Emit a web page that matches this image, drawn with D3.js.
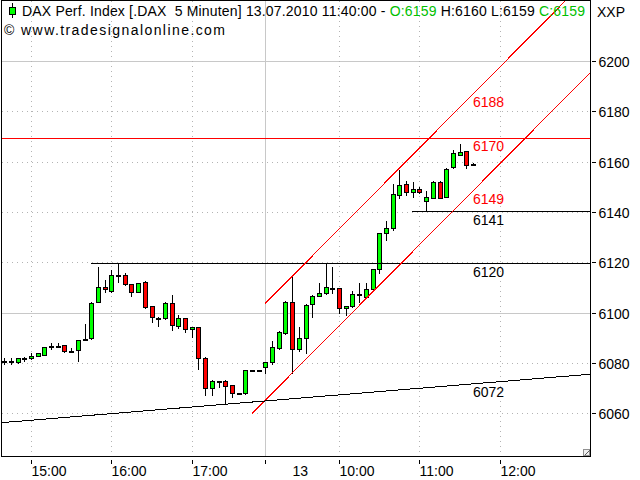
<!DOCTYPE html>
<html><head><meta charset="utf-8">
<script src="https://cdn.jsdelivr.net/npm/d3@7"></script>
<style>
body{margin:0;background:#fff}
svg{display:block}
text{font-family:"Liberation Sans",Arial,sans-serif;font-size:14px;white-space:pre}
</style>
</head><body>
<svg id="c" width="640" height="480"></svg>
<script>
// ---- data ----
const openVals  = [6080.8,6080.6,6080.4,6081.9,6082.0,6082.8,6083.3,6086.3,6086.8,6086.9,6084.8,6085.1,6089.3,6089.7,6104.1,6110.0,6108.7,6114.6,6114.8,6111.2,6108.3,6112.0,6102.5,6098.0,6097.7,6103.8,6094.5,6097.7,6093.3,6094.1,6082.1,6069.8,6072.7,6072.8,6071.0,6067.8,6067.8,6077.0,6077.0,6078.2,6080.2,6086.0,6091.7,6104.1,6085.6,6089.7,6103.3,6106.6,6107.6,6109.9,6109.6,6101.7,6102.5,6107.2,6106.3,6109.2,6117.2,6131.6,6133.4,6146.8,6151.2,6148.1,6149.1,6144.4,6145.7,6152.0,6146.1,6157.7,6162.7,6164.1,6159.0];
const highVals  = [6082.0,6082.1,6082.0,6082.4,6083.7,6084.0,6086.3,6087.7,6087.7,6087.0,6085.8,6089.0,6095.4,6104.0,6117.9,6112.8,6116.7,6119.6,6115.9,6111.4,6111.8,6112.4,6102.6,6098.1,6104.0,6107.0,6099.0,6097.8,6094.3,6094.2,6082.4,6073.2,6072.9,6073.0,6071.1,6067.9,6077.1,6077.1,6077.1,6080.3,6088.8,6092.8,6104.7,6114.5,6094.3,6103.2,6106.8,6111.6,6119.6,6118.2,6109.8,6102.6,6108.6,6111.6,6111.6,6117.3,6131.8,6136.2,6151.2,6156.5,6152.1,6151.7,6149.9,6148.4,6152.4,6152.1,6157.5,6164.5,6167.0,6164.3,6159.6];
const lowVals   = [6079.5,6079.4,6080.0,6080.8,6081.6,6082.6,6083.0,6085.6,6086.3,6084.3,6084.1,6080.8,6089.2,6089.5,6104.0,6108.3,6108.3,6112.0,6111.1,6106.7,6108.0,6101.8,6096.1,6094.7,6097.5,6093.1,6093.7,6092.3,6090.1,6077.4,6067.1,6067.1,6070.2,6063.5,6066.5,6067.7,6067.7,6076.9,6076.9,6075.8,6079.4,6085.3,6091.6,6075.8,6084.8,6084.0,6098.3,6106.4,6107.4,6107.9,6099.7,6099.0,6102.3,6104.3,6105.6,6108.6,6115.6,6128.9,6133.0,6145.5,6146.8,6146.1,6147.6,6140.4,6145.6,6145.5,6145.9,6157.5,6162.5,6157.5,6158.8];
const closeVals = [6080.8,6080.6,6081.8,6082.1,6082.9,6083.7,6086.1,6086.5,6086.8,6084.5,6084.8,6088.9,6089.4,6103.7,6110.0,6109.2,6114.8,6114.8,6111.5,6108.3,6111.6,6102.3,6098.1,6097.9,6103.8,6094.9,6097.7,6093.3,6094.1,6081.8,6069.8,6072.7,6072.8,6070.8,6067.8,6067.8,6077.0,6077.0,6077.0,6080.2,6086.4,6092.1,6104.1,6085.6,6089.7,6103.0,6106.6,6107.6,6110.0,6109.9,6101.7,6102.5,6107.2,6107.2,6109.2,6117.2,6131.6,6133.4,6147.1,6150.5,6148.1,6149.1,6147.9,6145.9,6152.0,6145.7,6157.1,6163.4,6163.8,6158.8,6159.0];

const xTickIdx    = [4,16,28,39,50,62,74];
const xTickLabels = ["15:00","16:00","17:00","13","10:00","11:00","12:00"];
const yTicks      = [6060,6080,6100,6120,6140,6160,6180,6200];

// drawn lines (index, price)
const redHLinePrice  = 6169.4;
const blackHLines    = [[13, 6119.6],[60.9, 6140.5]];   // start index, price
const upperChannel   = [[38.94, 6103.7],[84.5, 6226.0]];
const lowerChannel   = [[37.0, 6060.0],[87.7, 6196.1]];
const trendLine      = [[-0.4, 6056.4],[87.7, 6075.7]];
const labelIdx       = 70;
const redLabels      = [["6188", 6187.1],["6170", 6169.6],["6149", 6148.6]];
const blackLabels    = [["6141", 6140.5],["6120", 6119.6],["6072", 6071.8]];

const titleText  = "DAX Perf. Index [.DAX  5 Minuten] 13.07.2010 11:40:00 - ";
const ohlcText   = [["O:6159","#00c000"],["H:6160","#000"],["L:6159","#000"],["C:6159","#00c000"]];

// ---- layout ----
const svg = d3.select("#c");
const L = 1.5, T = 0.5, R = 590.5, B = 456.5;
const x = d3.scaleLinear().domain([0, 70]).range([4.2, 473.0]);
const y = d3.scaleLinear().domain([6060, 6200]).range([413.6, 61.5]);
const row = p => Math.floor(y(p));

svg.append("clipPath").attr("id","clip").append("rect")
  .attr("x", 2).attr("y", 1).attr("width", R - 2).attr("height", B - 1.5);
const plot = svg.append("g").attr("clip-path","url(#clip)");

// grid
yTicks.forEach(t => {
  const solid = (t % 100 === 0);
  plot.append("line").attr("x1", L).attr("x2", R)
    .attr("y1", row(t) + 0.5).attr("y2", row(t) + 0.5)
    .attr("stroke", solid ? "#c8c8c8" : "#b4b4b4")
    .attr("stroke-dasharray", solid ? null : "1,4")
    .attr("shape-rendering","crispEdges");
});
xTickIdx.forEach((t, i) => {
  const solid = xTickLabels[i] === "13";
  const xx = Math.round(x(t)) + 0.5;
  plot.append("line").attr("x1", xx).attr("x2", xx).attr("y1", T).attr("y2", B)
    .attr("stroke", solid ? "#c8c8c8" : "#b4b4b4")
    .attr("stroke-dasharray", solid ? null : "1,4")
    .attr("shape-rendering","crispEdges");
});

// candles
const cg = plot.append("g");
openVals.forEach((o, i) => {
  const c = closeVals[i], h = highVals[i], l = lowVals[i];
  const cx = Math.round(x(i));
  const top = row(Math.max(o, c)), bot = row(Math.min(o, c));
  cg.append("line").attr("x1", cx + 0.5).attr("x2", cx + 0.5)
    .attr("y1", row(h)).attr("y2", row(l) + 1)
    .attr("stroke","#000").attr("shape-rendering","crispEdges");
  if (bot - top <= 1) {
    cg.append("line").attr("x1", cx - 2).attr("x2", cx + 3)
      .attr("y1", row(c) + 0.5).attr("y2", row(c) + 0.5)
      .attr("stroke","#000").attr("stroke-width", 2).attr("shape-rendering","crispEdges");
  } else {
    cg.append("rect").attr("x", cx - 2 + 0.5).attr("y", top + 0.5)
      .attr("width", 4).attr("height", bot - top)
      .attr("fill", c > o ? "#00ff00" : "#ff0000")
      .attr("stroke","#000").attr("shape-rendering","crispEdges");
  }
});

// drawing lines
const lineGen = d3.line().x(d => x(d[0])).y(d => y(d[1]));
blackHLines.forEach(d => {
  plot.append("line").attr("x1", Math.round(x(d[0]))).attr("x2", R)
    .attr("y1", row(d[1]) + 0.5).attr("y2", row(d[1]) + 0.5)
    .attr("stroke", "#000").attr("shape-rendering","crispEdges");
});
[[upperChannel,"#ff0000"],[lowerChannel,"#ff0000"],[trendLine,"#000"]].forEach(([pts,col]) => {
  plot.append("path").attr("d", lineGen(pts)).attr("fill","none")
    .attr("stroke", col).attr("stroke-width", 1).attr("shape-rendering","crispEdges");
});
plot.append("line").attr("x1", L).attr("x2", R)
  .attr("y1", row(redHLinePrice) + 0.5).attr("y2", row(redHLinePrice) + 0.5)
  .attr("stroke", "#ff0000").attr("stroke-width", 1).attr("shape-rendering","crispEdges");

// line labels
redLabels.forEach(([t, p]) => {
  plot.append("text").attr("x", x(labelIdx)).attr("y", y(p) + 13.5)
    .attr("fill", "#ff0000").text(t);
});
blackLabels.forEach(([t, p]) => {
  plot.append("text").attr("x", x(labelIdx)).attr("y", y(p) + 13.5)
    .attr("fill", "#000").text(t);
});

// frame
svg.append("rect").attr("x", L).attr("y", T).attr("width", R - L).attr("height", B - T)
  .attr("fill","none").attr("stroke","#000").attr("shape-rendering","crispEdges");
// resize grip
svg.append("rect").attr("x", 583.5).attr("y", 449.5).attr("width", 6).attr("height", 6)
  .attr("fill","#f0f0f0").attr("stroke","#909090").attr("shape-rendering","crispEdges");
svg.append("line").attr("x1", 585).attr("y1", 455).attr("x2", 590).attr("y2", 450)
  .attr("stroke","#606060").attr("shape-rendering","crispEdges");

// y axis
const yAxis = svg.append("g").attr("transform", `translate(${R + 1},0)`)
  .call(d3.axisRight(y).tickValues(yTicks).tickSize(4).tickPadding(3).tickFormat(d3.format("d")));
yAxis.select(".domain").remove();
yAxis.selectAll(".tick").attr("transform", d => `translate(0,${row(d) + 0.5})`);
yAxis.selectAll(".tick line").attr("shape-rendering","crispEdges").attr("stroke","#000");
yAxis.selectAll("text").attr("font-family",'"Liberation Sans",Arial,sans-serif')
  .attr("font-size", 14).attr("fill","#000").attr("dy","0.36em");

// x axis
const xAxis = svg.append("g").attr("transform", "translate(0,460)")
  .call(d3.axisBottom(x).tickValues(xTickIdx).tickSize(4).tickPadding(2)
        .tickFormat((d, i) => xTickLabels[i]));
xAxis.select(".domain").remove();
xAxis.selectAll(".tick").attr("transform", d => `translate(${Math.round(x(d)) + 0.5},0)`);
xAxis.selectAll(".tick line").attr("shape-rendering","crispEdges").attr("stroke","#000");
xAxis.selectAll("text").attr("font-family",'"Liberation Sans",Arial,sans-serif')
  .attr("font-size", 14).attr("fill","#000").attr("text-anchor","start")
  .attr("x", (d, i) => xTickLabels[i] === "13" ? 27 : 0);

// header
svg.append("line").attr("x1", 12.5).attr("x2", 12.5).attr("y1", 3).attr("y2", 18)
  .attr("stroke","#000").attr("shape-rendering","crispEdges");
svg.append("rect").attr("x", 9.5).attr("y", 7.5).attr("width", 6).attr("height", 7)
  .attr("fill","#00ff00").attr("stroke","#000").attr("shape-rendering","crispEdges");
const head = svg.append("text").attr("x", 22).attr("y", 16).attr("font-size", 14.4)
  .attr("textLength", 563).attr("lengthAdjust", "spacing");
head.append("tspan").attr("fill","#000").text(titleText);
ohlcText.forEach(([t, col], i) => {
  head.append("tspan").attr("fill", col).text((i ? " " : "") + t);
});
svg.append("text").attr("x", 4).attr("y", 35).attr("font-size", 15).attr("fill","#000")
  .attr("textLength", 221).attr("lengthAdjust", "spacing")
  .text("\u00A9 www.tradesignalonline.com");
svg.append("text").attr("x", 597).attr("y", 17).attr("fill","#000").text("XXP");
</script>
</body></html>
